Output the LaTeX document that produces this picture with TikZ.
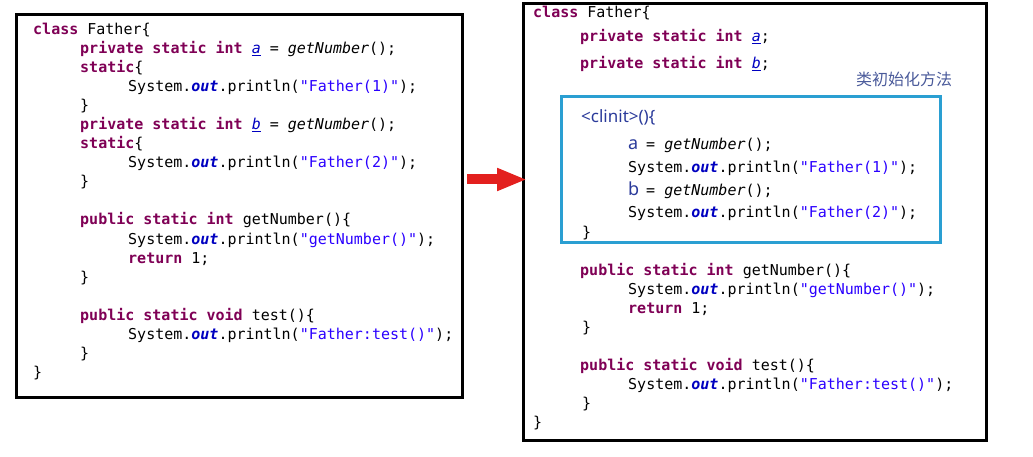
\documentclass[tikz,border=0pt]{standalone}
\usepackage{fontspec}
\setmonofont{DejaVu Sans Mono}
\newfontfamily\cjkfont{Noto Sans CJK SC}
\newfontfamily\propfont{Noto Sans}
\usetikzlibrary{arrows.meta}
\definecolor{kwc}{HTML}{7F0055}
\definecolor{strc}{HTML}{2A00FF}
\definecolor{fldc}{HTML}{0000C0}
\definecolor{boxblue}{HTML}{2A9FD2}
\definecolor{labc}{HTML}{4A5A9A}
\definecolor{clc}{HTML}{2A3A9A}
\definecolor{arrred}{HTML}{E3201E}
\newcommand{\jkw}[1]{\textcolor{kwc}{\bfseries #1}}
\newcommand{\jstr}[1]{\textcolor{strc}{#1}}
\newcommand{\jfld}[1]{\textcolor{fldc}{\itshape\underline{#1}}}
\newcommand{\jout}{\textcolor{fldc}{\bfseries\itshape out}}
\newcommand{\jit}[1]{{\itshape #1}}
\newcommand{\jvar}[1]{\makebox[9pt][l]{\textcolor{clc}{\propfont\fontsize{18}{18}\selectfont #1}}}
\tikzset{
  code/.style={anchor=base west, inner sep=0pt, font=\ttfamily\fontsize{15}{18}\selectfont},
  outerbox/.style={draw=black, line width=3pt, inner sep=0pt},
  initbox/.style={draw=boxblue, line width=2.6pt, inner sep=0pt},
}
\begin{document}
\begin{tikzpicture}[x=1pt,y=-1pt]
\useasboundingbox (0,0) rectangle (1033,457);
% boxes
\node[outerbox, minimum width=446pt, minimum height=383pt] (leftbox) at (239.5,206) {};
\node[outerbox, minimum width=463pt, minimum height=437pt] (rightbox) at (755,222) {};
\node[initbox, minimum width=379pt, minimum height=146pt] (clinitbox) at (751,169.5) {};
% left code
\node[code] (l1) at (33,35) {\jkw{class} Father\{};
\node[code] (l2) at (80,54) {\jkw{private} \jkw{static} \jkw{int} \jfld{a} = \jit{getNumber}();};
\node[code] (l3) at (80,73) {\jkw{static}\{};
\node[code] (l4) at (128,92) {System.\jout.println(\jstr{"Father(1)"});};
\node[code] (l5) at (80,111) {\}};
\node[code] (l6) at (80,130) {\jkw{private} \jkw{static} \jkw{int} \jfld{b} = \jit{getNumber}();};
\node[code] (l7) at (80,149) {\jkw{static}\{};
\node[code] (l8) at (128,168) {System.\jout.println(\jstr{"Father(2)"});};
\node[code] (l9) at (80,187) {\}};
\node[code] (l10) at (80,225) {\jkw{public} \jkw{static} \jkw{int} getNumber()\{};
\node[code] (l11) at (128,244) {System.\jout.println(\jstr{"getNumber()"});};
\node[code] (l12) at (128,263) {\jkw{return} 1;};
\node[code] (l13) at (80,282) {\}};
\node[code] (l14) at (80,320) {\jkw{public} \jkw{static} \jkw{void} test()\{};
\node[code] (l15) at (128,339) {System.\jout.println(\jstr{"Father:test()"});};
\node[code] (l16) at (80,358) {\}};
\node[code] (l17) at (33,377) {\}};
% right code
\node[code] (r1) at (533,18) {\jkw{class} Father\{};
\node[code] (r2) at (580,42) {\jkw{private} \jkw{static} \jkw{int} \jfld{a};};
\node[code] (r3) at (580,69) {\jkw{private} \jkw{static} \jkw{int} \jfld{b};};
\node[anchor=base west, inner sep=0pt, text=labc, font=\cjkfont\fontsize{16}{18}\selectfont] (lab) at (856,86) {类初始化方法};
\node[anchor=base west, inner sep=0pt, text=clc, font=\propfont\fontsize{17}{20}\selectfont] (r4) at (581,123) {<clinit>()\{};
\node[code] (r5) at (628,150) {\jvar{a} = \jit{getNumber}();};
\node[code] (r6) at (628,172.5) {System.\jout.println(\jstr{"Father(1)"});};
\node[code] (r7) at (628,195.5) {\jvar{b} = \jit{getNumber}();};
\node[code] (r8) at (628,218) {System.\jout.println(\jstr{"Father(2)"});};
\node[code] (r9) at (582,237) {\}};
\node[code] (r10) at (580,275) {\jkw{public} \jkw{static} \jkw{int} getNumber()\{};
\node[code] (r11) at (628,294) {System.\jout.println(\jstr{"getNumber()"});};
\node[code] (r12) at (628,313) {\jkw{return} 1;};
\node[code] (r13) at (582,332) {\}};
\node[code] (r14) at (580,370) {\jkw{public} \jkw{static} \jkw{void} test()\{};
\node[code] (r15) at (628,389) {System.\jout.println(\jstr{"Father:test()"});};
\node[code] (r16) at (582,408) {\}};
\node[code] (r17) at (533,427) {\}};
% arrow
\coordinate (arrS) at (467,179.5);
\coordinate (arrE) at (527,179.5);
\draw[arrred, line width=10pt, -{Triangle[length=30pt,width=21pt]}] (arrS) -- (arrE);
\end{tikzpicture}
\end{document}
